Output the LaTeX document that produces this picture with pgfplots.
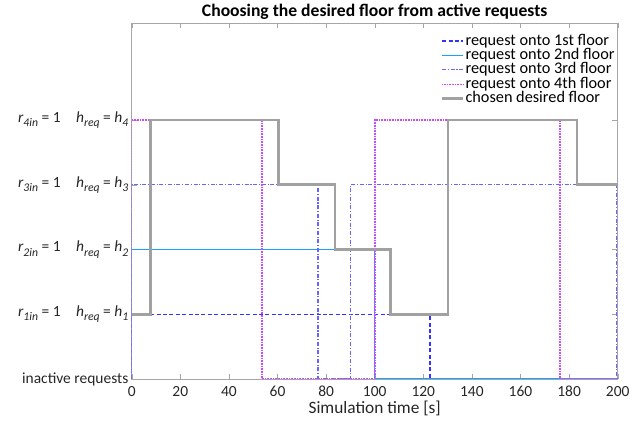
\documentclass[border=0pt]{standalone}
\usepackage{pgfplots}
\pgfplotsset{compat=1.18}
\usepackage{fontspec}
\setmainfont{Carlito}
\definecolor{cA}{rgb}{0.2,0.2,1}
\definecolor{cB}{rgb}{0.1,0.63,1}
\definecolor{cC}{rgb}{0.4,0.4,1}
\definecolor{cD}{rgb}{0.78,0.3,1}
\definecolor{cG}{rgb}{0.63,0.63,0.63}
\newcommand{\sub}[1]{\raisebox{-3.2pt}{\fontsize{8.8}{9}\selectfont\itshape #1}}
\newcommand{\lab}[1]{{\itshape r}\sub{#1in} = 1\quad{\itshape h}\sub{req} = {\itshape h}\sub{#1}}
\begin{document}
\begin{tikzpicture}
\begin{axis}[
  scale only axis, width=364.5pt, height=267pt,
  xmin=0, xmax=200, ymin=0, ymax=5.5,
  xtick={0,20,...,200}, ytick={0,1,2,3,4},
  yticklabels={inactive requests,\lab{1},\lab{2},\lab{3},\lab{4}},
  tick align=inside, major tick length=4pt,
  axis line style={black!35}, tick style={black!35},
  /pgf/number format/assume math mode=true,
  ticklabel style={font=\fontsize{11.6}{13}\selectfont, text=black!85},
  xticklabel style={yshift=-2pt},
  yticklabel style={xshift=1pt},
  xlabel={Simulation time [s]},
  xlabel style={font=\fontsize{13}{14}\selectfont, text=black!85, yshift=4.2pt},
  title={Choosing the desired floor from active requests},
  title style={font=\bfseries\fontsize{13.2}{14}\selectfont, yshift=-7pt},
  legend style={draw=none, fill=white, at={(0.998,0.972)}, anchor=north east,
    font=\fontsize{12.2}{12.5}\selectfont, row sep=0pt, inner sep=0.5pt,
    nodes={inner ysep=0.55pt, inner xsep=0.9pt, text height=7.8pt, text depth=1.9pt},
    /tikz/every even column/.append style={column sep=0pt}},
  legend image code/.code={\draw[#1] (0cm,0cm) -- (0.55cm,0cm);},
  legend cell align=left,
]
\addplot[cA, line width=1pt, dash pattern=on 3pt off 1.8pt] coordinates {
 (0,0) (0,1) (122.7,1) (122.7,0) (200,0)};
\addlegendentry{request onto 1st floor}
\addplot[cB, line width=1pt] coordinates {
 (0,0) (0,2) (99.8,2) (99.8,0) (200,0)};
\addlegendentry{request onto 2nd floor}
\addplot[cC, line width=0.9pt, dash pattern=on 3pt off 1.3pt on 0.8pt off 1.3pt] coordinates {
 (0,0) (0,3) (76.7,3) (76.7,0) (90,0) (90,3) (199.4,3) (199.4,0) (200,0)};
\addlegendentry{request onto 3rd floor}
\addplot[cD, line width=0.9pt, dash pattern=on 0.6pt off 0.6pt] coordinates {
 (0,0) (0,4) (53.6,4) (53.6,0) (100.1,0) (100.1,4) (176.3,4) (176.3,0) (200,0)};
\addlegendentry{request onto 4th floor}
\addplot[cG, line width=2pt] coordinates {
 (0,1) (7.8,1) (7.8,4) (60.5,4) (60.5,3) (83.6,3) (83.6,2) (106.6,2) (106.6,1) (130.2,1) (130.2,4) (183.3,4) (183.3,3) (200,3)};
\addlegendentry{chosen desired floor}
\end{axis}
\pgfresetboundingbox
\path[use as bounding box] ([shift={(-98.8pt,-31.3pt)}]current axis.south west) rectangle ([shift={(13pt,17.25pt)}]current axis.north east);
\end{tikzpicture}
\end{document}
